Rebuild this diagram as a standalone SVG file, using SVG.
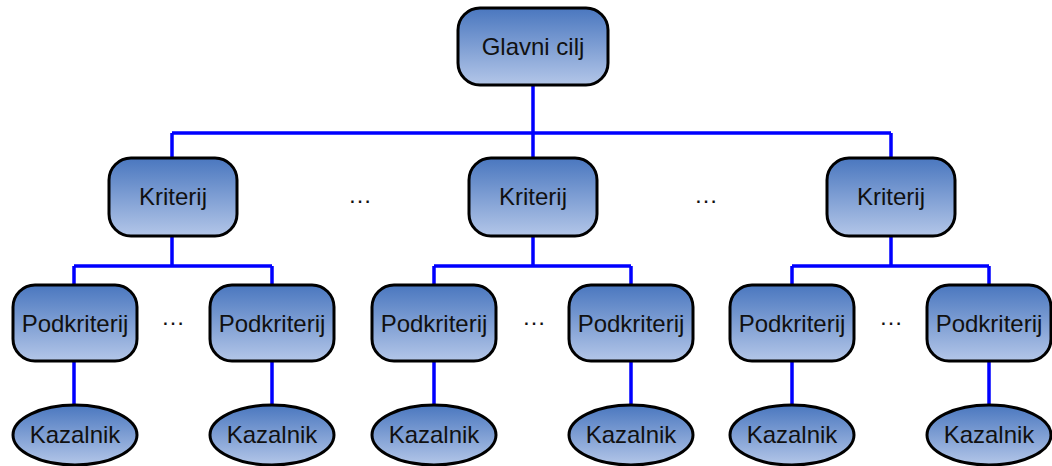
<svg xmlns="http://www.w3.org/2000/svg" width="1052" height="466" viewBox="0 0 1052 466">
<defs>
<linearGradient id="g" x1="0" y1="0" x2="0" y2="1">
<stop offset="0" stop-color="#4a77bf"/>
<stop offset="1" stop-color="#b3c6e8"/>
</linearGradient>
</defs>
<style>
.n{fill:url(#g);stroke:#000;stroke-width:3}
.t{font-family:"Liberation Sans",Arial,sans-serif;font-size:24px;text-anchor:middle;fill:#111}
.c{fill:none;stroke:#0000ff;stroke-width:3.5}
</style>
<rect width="1052" height="466" fill="#fff"/>
<g id="connectors" class="c">
<path d="M533 85V133M172 133H891M172 133V158M533 133V158M891 133V158"/>
<path d="M172 236V266M74 266H272M74 266V285M272 266V285"/>
<path d="M533 236V266M434 266H631M434 266V285M631 266V285"/>
<path d="M891 236V266M792 266H989M792 266V285M989 266V285"/>
<path d="M74 361V405M272 361V405M434 361V405M631 361V405M792 361V405M989 361V405"/>
</g>
<g id="goal"><rect class="n" x="458" y="8" width="150" height="77" rx="22"/><text class="t" x="533" y="55">Glavni cilj</text></g>
<g id="k1"><rect class="n" x="109" y="158" width="128" height="78" rx="22"/><text class="t" x="173" y="205">Kriterij</text></g>
<g id="k2"><rect class="n" x="469" y="158" width="128" height="78" rx="22"/><text class="t" x="533" y="205">Kriterij</text></g>
<g id="k3"><rect class="n" x="827" y="158" width="128" height="78" rx="22"/><text class="t" x="891" y="205">Kriterij</text></g>
<g id="p1"><rect class="n" x="13" y="285" width="124" height="76" rx="22"/><text class="t" x="75" y="332">Podkriterij</text></g>
<g id="p2"><rect class="n" x="210" y="285" width="124" height="76" rx="22"/><text class="t" x="272" y="332">Podkriterij</text></g>
<g id="p3"><rect class="n" x="372" y="285" width="124" height="76" rx="22"/><text class="t" x="434" y="332">Podkriterij</text></g>
<g id="p4"><rect class="n" x="569" y="285" width="124" height="76" rx="22"/><text class="t" x="631" y="332">Podkriterij</text></g>
<g id="p5"><rect class="n" x="730" y="285" width="124" height="76" rx="22"/><text class="t" x="792" y="332">Podkriterij</text></g>
<g id="p6"><rect class="n" x="927" y="285" width="124" height="76" rx="22"/><text class="t" x="989" y="332">Podkriterij</text></g>
<g id="i1"><ellipse class="n" cx="75" cy="435" rx="62" ry="30"/><text class="t" x="75" y="443">Kazalnik</text></g>
<g id="i2"><ellipse class="n" cx="272" cy="435" rx="62" ry="30"/><text class="t" x="272" y="443">Kazalnik</text></g>
<g id="i3"><ellipse class="n" cx="434" cy="435" rx="62" ry="30"/><text class="t" x="434" y="443">Kazalnik</text></g>
<g id="i4"><ellipse class="n" cx="631" cy="435" rx="62" ry="30"/><text class="t" x="631" y="443">Kazalnik</text></g>
<g id="i5"><ellipse class="n" cx="792" cy="435" rx="62" ry="30"/><text class="t" x="792" y="443">Kazalnik</text></g>
<g id="i6"><ellipse class="n" cx="989" cy="435" rx="62" ry="30"/><text class="t" x="989" y="443">Kazalnik</text></g>
<g id="dots" class="t">
<text x="360" y="203">…</text>
<text x="706" y="203">…</text>
<text x="173" y="325">…</text>
<text x="534" y="325">…</text>
<text x="891" y="325">…</text>
</g>
</svg>
